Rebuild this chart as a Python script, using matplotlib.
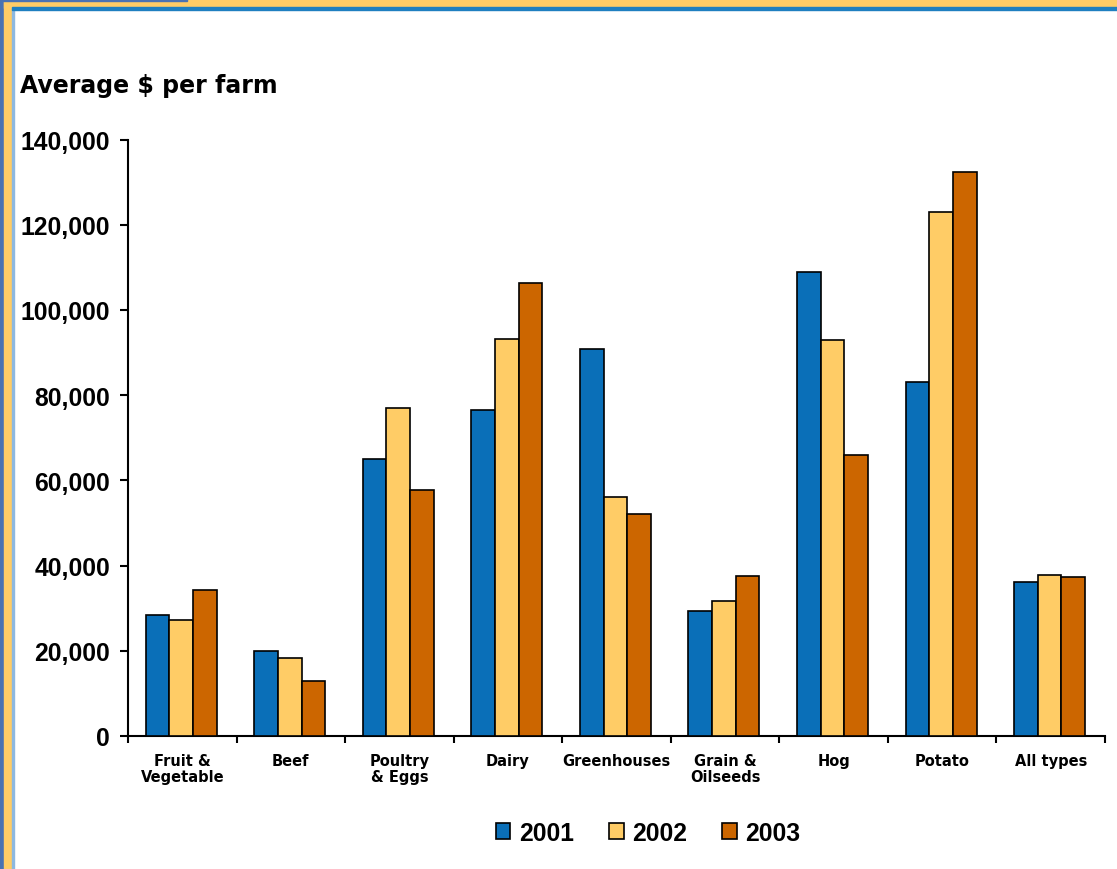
import numpy as np
import matplotlib.pyplot as plt
import matplotlib.font_manager as fm
from matplotlib.patches import Patch, Rectangle
from matplotlib.ticker import FuncFormatter, FixedLocator

# Average program payment per farm, by farm type
categories = ['Fruit &\nVegetable', 'Beef', 'Poultry\n& Eggs', 'Dairy', 'Greenhouses',
              'Grain &\nOilseeds', 'Hog', 'Potato', 'All types']
years = ['2001', '2002', '2003']
avg_2001 = [28500, 20000, 64900, 76500, 90800, 29400, 108800, 83200, 36200]
avg_2002 = [27300, 18400, 77000, 93200, 56200, 31800, 92900, 123000, 37900]
avg_2003 = [34300, 13000, 57800, 106300, 52100, 37500, 65900, 132400, 37400]

colors = ['#0A6FB8', '#FFCC66', '#CC6600']
W, H = 1117, 870


def bold_sans(size):
    # regular-width bold Arial-like face (skip the Narrow variant)
    for fam in ['Liberation Sans', 'Arimo', 'Roboto']:
        for f in fm.fontManager.ttflist:
            if f.name == fam and f.weight in (700, 'bold') and 'Narrow' not in f.fname \
                    and f.style == 'normal':
                return fm.FontProperties(fname=f.fname, size=size)
    return fm.FontProperties(family='DejaVu Sans', weight='bold', size=size)


num_font = bold_sans(17.8)

fig = plt.figure(figsize=(W / 100, H / 100), dpi=100)
fig.patch.set_facecolor('white')

# slide-style border on top and left
fig.patches.append(Rectangle((0, 0), 4 / W, 1, transform=fig.transFigure, color='#4A72B2', zorder=0))
fig.patches.append(Rectangle((4 / W, 0), 8 / W, 1, transform=fig.transFigure, color='#FFCC66', zorder=0))
fig.patches.append(Rectangle((12 / W, 0), 2 / W, 1 - 10 / H, transform=fig.transFigure, color='#8DB8E0', zorder=0))
fig.patches.append(Rectangle((4 / W, 1 - 9 / H), 1, 9 / H, transform=fig.transFigure, color='#FFCC66', zorder=0))
fig.patches.append(Rectangle((0, 1 - 2 / H), 187 / W, 2 / H, transform=fig.transFigure, color='#4A72B2', zorder=0))
fig.patches.append(Rectangle((12 / W, 1 - 11 / H), 1, 3 / H, transform=fig.transFigure, color='#1F7FC0', zorder=0))

ax = fig.add_axes([128 / W, 133 / H, 977 / W, 596.5 / H])

x = np.arange(len(categories))
bw = 0.218
for i, (vals, c) in enumerate(zip([avg_2001, avg_2002, avg_2003], colors)):
    ax.bar(x + (i - 1) * bw - 0.01, vals, width=bw, color=c, edgecolor='black',
           linewidth=1.2, zorder=3)

ax.set_xlim(-0.5, len(categories) - 0.5)
ax.set_ylim(0, 140000)
ax.set_yticks(np.arange(0, 140001, 20000))
ax.yaxis.set_major_formatter(FuncFormatter(lambda v, p: f'{int(v):,}'))
for lab in ax.get_yticklabels():
    lab.set_fontproperties(num_font)
ax.tick_params(axis='y', length=6, width=1.5, pad=7)

ax.set_xticks(x)
ax.set_xticklabels(categories, fontsize=10.5, fontweight='bold', fontfamily='DejaVu Sans',
                   linespacing=1.15)
ax.xaxis.set_minor_locator(FixedLocator(np.arange(-0.5, len(categories), 1.0)))
ax.tick_params(axis='x', which='major', length=0, pad=12)
ax.tick_params(axis='x', which='minor', length=5, width=1.5)

for s in ['top', 'right']:
    ax.spines[s].set_visible(False)
for s in ['left', 'bottom']:
    ax.spines[s].set_linewidth(1.5)

fig.text(20 / W, 1 - 93 / H, 'Average $ per farm', fontsize=17, fontweight='bold',
         fontfamily='DejaVu Sans', va='baseline', ha='left')

handles = [Patch(facecolor=c, edgecolor='black', linewidth=1.2, label=y) for c, y in zip(colors, years)]
fig.legend(handles=handles, loc='center', bbox_to_anchor=(648 / W, 1 - 834 / H), ncol=3,
           frameon=False, handlelength=0.6, handleheight=0.6, handletextpad=0.35,
           columnspacing=1.4, prop=num_font)

fig.savefig('out.png', dpi=100)
